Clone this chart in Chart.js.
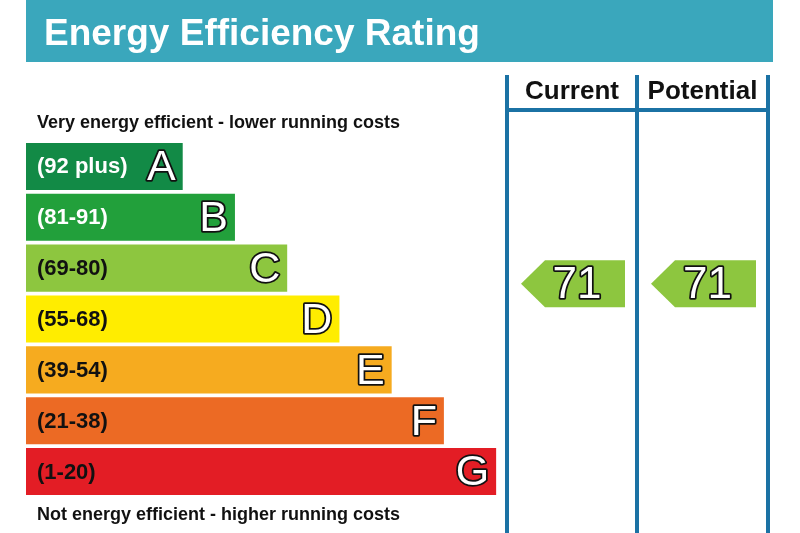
<!DOCTYPE html>
<html>
<head>
<meta charset="utf-8">
<script src="https://cdn.jsdelivr.net/npm/chart.js@4"></script>
<style>
  body { margin: 0; background: #fff; }
</style>
</head>
<body>
<canvas id="epc" width="800" height="533"></canvas>
<script>
"use strict";

// bands
var bands = ['A', 'B', 'C', 'D', 'E', 'F', 'G'];
var rangeLabels = ['(92 plus)', '(81-91)', '(69-80)', '(55-68)', '(39-54)', '(21-38)', '(1-20)'];
var rangeLow = [92, 81, 69, 55, 39, 21, 1];
var rangeHigh = [100, 91, 80, 68, 54, 38, 20];
var barLengths = [3, 4, 5, 6, 7, 8, 9];

// ratings
var columns = ['Current', 'Potential'];
var ratings = [71, 71];

var bandColors = ['#128a46', '#22a03b', '#8dc63f', '#ffed00', '#f6ab1f', '#ec6a24', '#e31d25'];
var labelColors = ['#ffffff', '#ffffff', '#111111', '#111111', '#111111', '#111111', '#111111'];
var lineColor = '#1b72a4';
var bannerColor = '#3aa7bc';
var FONT = '"Liberation Sans", Arial, sans-serif';

function outlined(ctx, text, x, y) {
  ctx.lineJoin = 'round';
  ctx.lineWidth = 3.5;
  ctx.strokeStyle = '#111111';
  ctx.strokeText(text, x, y);
  ctx.fillStyle = '#ffffff';
  ctx.fillText(text, x, y);
}

var epcPlugin = {
  id: 'epc',
  beforeDraw: function (chart) {
    var ctx = chart.ctx;
    ctx.save();
    //banner
    ctx.fillStyle = bannerColor;
    ctx.fillRect(26, 0, 747, 62);
    ctx.fillStyle = '#ffffff';
    ctx.font = 'bold 37px ' + FONT;
    ctx.textBaseline = 'alphabetic';
    ctx.fillText('Energy Efficiency Rating', 44, 45);

    ctx.fillStyle = '#111111';
    ctx.font = 'bold 18px ' + FONT;
    ctx.fillText('Very energy efficient - lower running costs', 37, 128);
    ctx.fillText('Not energy efficient - higher running costs', 37, 520);

    //columns
    var cols = [507, 637, 768];
    ctx.strokeStyle = lineColor;
    ctx.lineWidth = 4;
    cols.forEach(function (x) {
      ctx.beginPath();
      ctx.moveTo(x, 75);
      ctx.lineTo(x, 533);
      ctx.stroke();
    });
    ctx.beginPath();
    ctx.moveTo(cols[0], 110);
    ctx.lineTo(cols[2], 110);
    ctx.stroke();

    ctx.fillStyle = '#111111';
    ctx.font = 'bold 26px ' + FONT;
    ctx.textAlign = 'center';
    columns.forEach(function (name, i) {
      ctx.fillText(name, (cols[i] + cols[i + 1]) / 2, 99);
    });
    ctx.restore();
  },
  afterDatasetsDraw: function (chart) {
    var ctx = chart.ctx;
    var meta = chart.getDatasetMeta(0);
    ctx.save();
    ctx.textBaseline = 'middle';
    meta.data.forEach(function (bar, i) {
      var left = bar.base;
      ctx.textAlign = 'left';
      ctx.font = 'bold 22px ' + FONT;
      ctx.fillStyle = labelColors[i];
      ctx.fillText(rangeLabels[i], left + 11, bar.y + 1);
      ctx.textAlign = 'right';
      ctx.font = '43px ' + FONT;
      outlined(ctx, bands[i], bar.x - 7, bar.y + 2);
    });

    //arrows
    var cols = [507, 637, 768];
    ratings.forEach(function (r, c) {
      var i = 0;
      for (var k = 0; k < bands.length; k++) {
        if (r >= rangeLow[k] && r <= rangeHigh[k]) { i = k; }
      }
      var bar = meta.data[i];
      var h = bar.height;
      var frac = (r - rangeLow[i]) / (rangeHigh[i] - rangeLow[i] + 1);
      var cy = bar.y + h / 2 - frac * h;
      var tip = cols[c] + 14;
      var right = cols[c + 1] - 12;
      var top = cy - h / 2, bottom = cy + h / 2;
      ctx.fillStyle = bandColors[i];
      ctx.beginPath();
      ctx.moveTo(tip, cy);
      ctx.lineTo(tip + 24, top);
      ctx.lineTo(right, top);
      ctx.lineTo(right, bottom);
      ctx.lineTo(tip + 24, bottom);
      ctx.closePath();
      ctx.fill();
      ctx.textAlign = 'center';
      ctx.font = '44px ' + FONT;
      outlined(ctx, String(r), (tip + right) / 2 + 4, cy + 2);
    });
    ctx.restore();
  }
};

var chart = new Chart(document.getElementById('epc').getContext('2d'), {
  type: 'bar',
  data: {
    labels: bands,
    datasets: [{
      data: barLengths,
      backgroundColor: bandColors,
      borderWidth: 0,
      categoryPercentage: 1,
      barPercentage: 0.925
    }]
  },
  options: {
    indexAxis: 'y',
    responsive: false,
    animation: false,
    layout: { padding: { left: 26, right: 27, top: 141, bottom: 36 } },
    plugins: {
      legend: { display: false },
      title: { display: false },
      tooltip: { enabled: false }
    },
    scales: {
      x: { display: false, min: 0, max: 14.3 },
      y: { display: false }
    }
  },
  plugins: [epcPlugin]
});
</script>
</body>
</html>
